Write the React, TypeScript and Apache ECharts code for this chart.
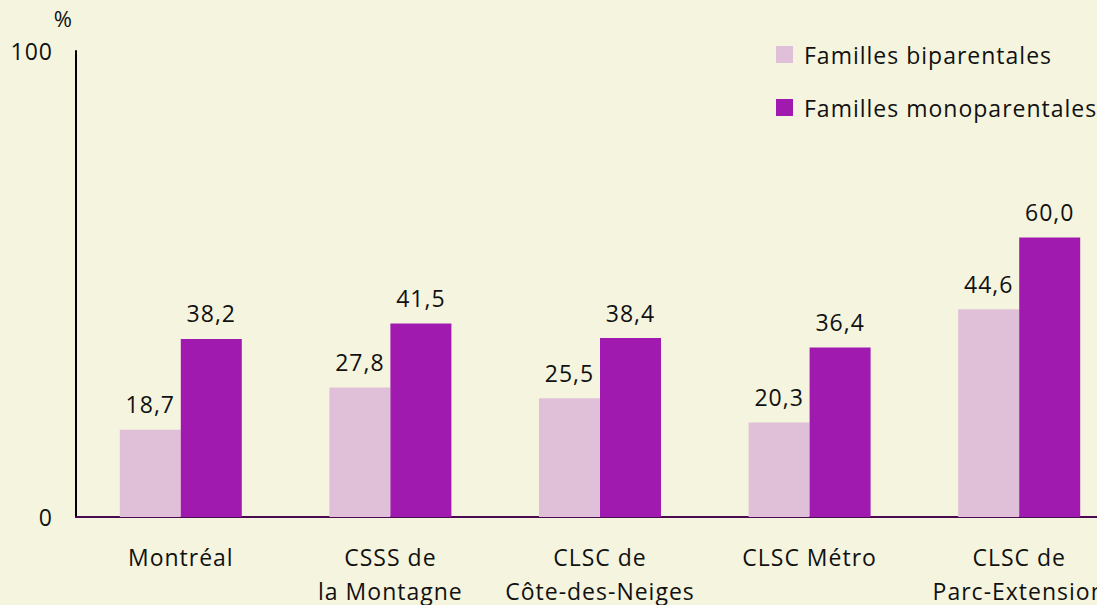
import React, { useEffect, useRef } from "react";
import * as echarts from "echarts";

const categories = ["Montréal", "CSSS de\nla Montagne", "CLSC de\nCôte-des-Neiges", "CLSC Métro", "CLSC de\nParc-Extension"];
const biparentales = [18.7, 27.8, 25.5, 20.3, 44.6];
const monoparentales = [38.2, 41.5, 38.4, 36.4, 60.0];
const seriesNames = ["Familles biparentales", "Familles monoparentales"];

const FONT = "Open Sans";
const FS = 23;
const fmt = (v: number) => v.toFixed(1).replace(".", ",");

export default function App() {
  const ref = useRef<HTMLDivElement>(null);
  useEffect(() => {
    if (!ref.current) return;
    const chart = echarts.init(ref.current, null, { renderer: "svg" });
    const labelCfg = {
      show: true,
      position: "top",
      distance: 14,
      fontFamily: FONT,
      fontSize: FS,
      color: "#111",
      formatter: (p: any) => fmt(p.value),
    };
    chart.setOption({
      animation: false,
      backgroundColor: "#F5F5DF",
      textStyle: { fontFamily: FONT },
      legend: {
        orient: "vertical",
        left: 771,
        top: 38,
        itemWidth: 17,
        itemHeight: 17,
        itemGap: 30,
        icon: "rect",
        textStyle: { fontSize: FS, color: "#111", fontFamily: FONT, padding: [0, 0, 0, 6] },
        data: seriesNames,
      },
      grid: { left: 76, right: -27, top: 51, bottom: 88, containLabel: false, outerBoundsMode: "none" },
      xAxis: {
        type: "category",
        data: categories,
        axisLine: { show: true, lineStyle: { color: "#4A0A50", width: 2 } },
        axisTick: { show: false },
        axisLabel: { fontSize: FS, color: "#111", fontFamily: FONT, margin: 23, lineHeight: 34, interval: 0 },
      },
      yAxis: {
        type: "value",
        min: 0,
        max: 100,
        interval: 100,
        name: "%",
        nameLocation: "end",
        nameGap: 22,
        nameTextStyle: { fontSize: 22, color: "#111", fontFamily: FONT, align: "right", padding: [0, 3, 0, 0] },
        splitLine: { show: false },
        axisLine: { show: true, lineStyle: { color: "#000", width: 2 } },
        axisTick: { show: false },
        axisLabel: { fontSize: FS, color: "#111", fontFamily: FONT, margin: 23 },
      },
      series: [
        {
          name: seriesNames[0],
          type: "bar",
          data: biparentales,
          barWidth: 61,
          barGap: "0%",
          itemStyle: { color: "#E0C0D8" },
          label: labelCfg,
        },
        {
          name: seriesNames[1],
          type: "bar",
          data: monoparentales,
          barWidth: 61,
          barGap: "0%",
          itemStyle: { color: "#A01AB0" },
          label: labelCfg,
        },
      ],
    });
    return () => chart.dispose();
  }, []);
  return (
    <div
      ref={ref}
      style={{ width: 1097, height: 605, position: "absolute", left: 0, top: 0, letterSpacing: "1px" }}
    />
  );
}
